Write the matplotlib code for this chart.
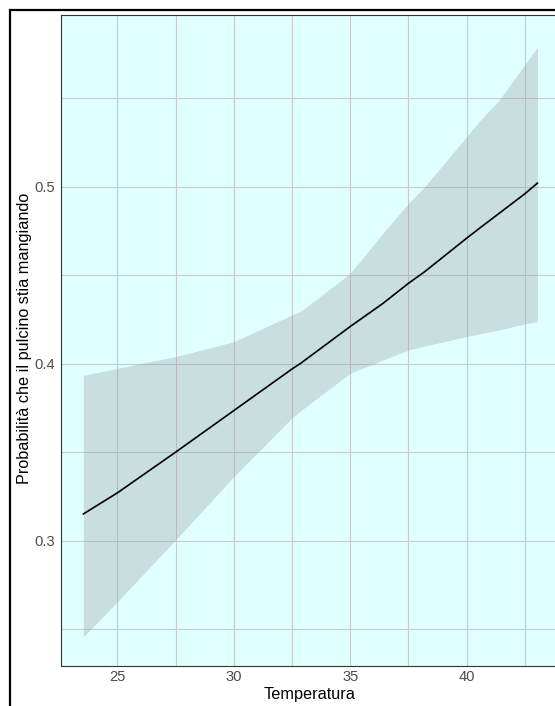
import matplotlib
matplotlib.use("Agg")
import matplotlib.pyplot as plt
from matplotlib.patches import Rectangle

plt.rcParams['font.family'] = ['Liberation Sans', 'DejaVu Sans']

# valori
temperatura = [23.54, 25.0, 27.5, 30.0, 32.5, 32.85, 35.0, 36.4, 37.5, 38.2, 40.0, 40.6, 41.4, 42.5, 43.04]
prob_fit = [0.3151, 0.327, 0.350, 0.3735, 0.397, 0.400, 0.421, 0.434, 0.4454, 0.452, 0.4709, 0.477, 0.485, 0.496, 0.502]
prob_alta = [0.3934, 0.3974, 0.404, 0.4124, 0.4275, 0.4294, 0.451, 0.4737, 0.4906, 0.500, 0.5283, 0.5378, 0.549, 0.569, 0.579]
prob_bassa = [0.2458, 0.2655, 0.3004, 0.3362, 0.3694, 0.3732, 0.3946, 0.402, 0.4077, 0.410, 0.4153, 0.417, 0.419, 0.4225, 0.4237]

x_ticks = [25, 30, 35, 40]
x_minor = [27.5, 32.5, 37.5, 42.5]
y_ticks = [0.3, 0.4, 0.5]
y_minor = [0.25, 0.35, 0.45, 0.55]

fig = plt.figure(figsize=(5.55, 7.06), dpi=100)
ax = fig.add_axes([61 / 555, 40 / 706, 498 / 555, 651 / 706])
ax.set_facecolor('#E0FFFF')

ax.fill_between(temperatura, prob_bassa, prob_alta, color='#999999', alpha=0.32, lw=0, zorder=2)
ax.plot(temperatura, prob_fit, color='black', lw=1.2, zorder=3)

ax.set_xlim(22.58, 43.965)
ax.set_ylim(0.2292, 0.597)
ax.set_xticks(x_ticks)
ax.set_xticks(x_minor, minor=True)
ax.set_yticks(y_ticks)
ax.set_yticks(y_minor, minor=True)
ax.set_yticklabels(['0.3', '0.4', '0.5'])
ax.grid(True, which='both', color='#C4CCCC', lw=0.8, zorder=1)
ax.set_axisbelow(True)
ax.tick_params(which='both', length=0, labelsize=10.6, labelcolor='#4D4D4D')
ax.tick_params(axis='x', pad=3.2)
ax.tick_params(axis='y', pad=4.2)

for s in ax.spines.values():
    s.set_color('#333333')
    s.set_linewidth(0.8)

fig.text(310 / 555, 1 - 694 / 706, 'Temperatura', fontsize=11.7, ha='center', va='center')
fig.text(25 / 555, 1 - 338 / 706, 'Probabilità che il pulcino stia mangiando', fontsize=11.7,
         ha='center', va='center', rotation=90)

# cornice esterna dello screenshot
fig.patches.append(Rectangle((10 / 555, -0.1), 1.2, 0.1 + 696 / 706, transform=fig.transFigure,
                             fill=False, edgecolor='black', lw=1.6))

fig.savefig('out.png', dpi=100)
